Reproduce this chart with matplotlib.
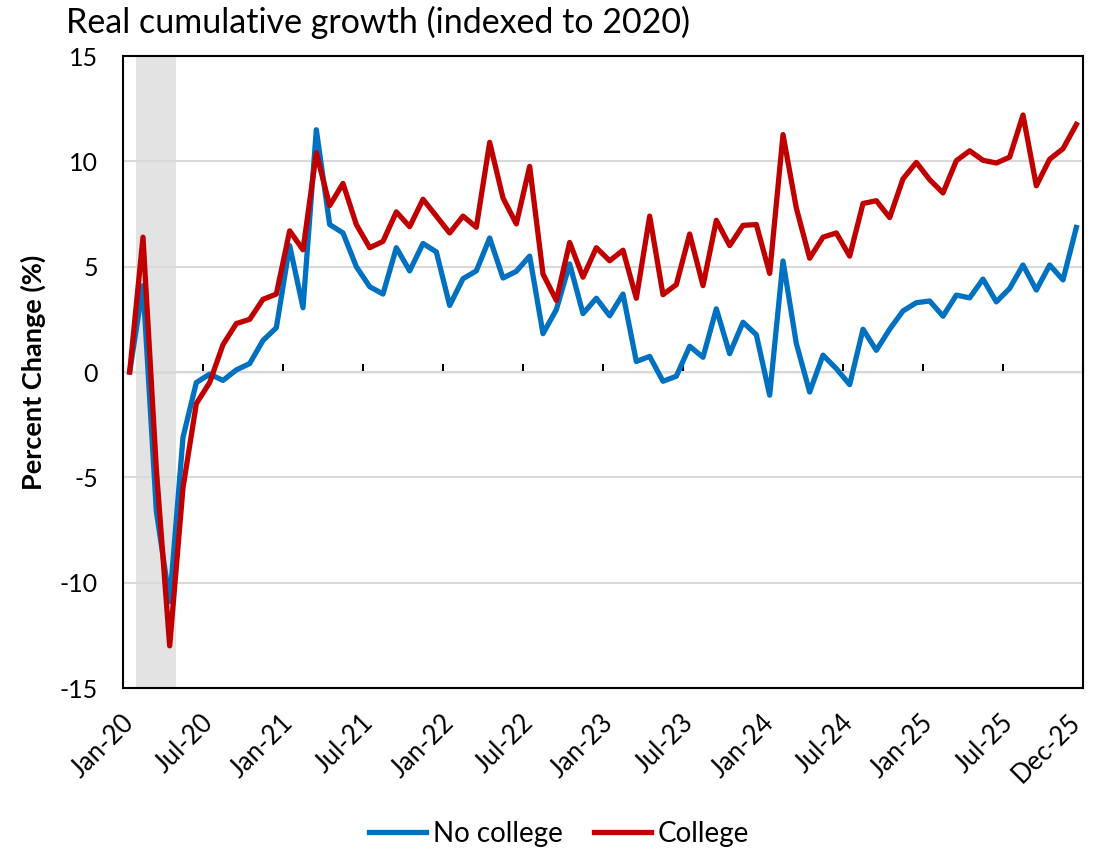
import numpy as np
import matplotlib
matplotlib.use("Agg")
import matplotlib.pyplot as plt

# ---------------- data ----------------
months = [f"{m}-{y}" for y in range(20, 26) for m in
          ["Jan", "Feb", "Mar", "Apr", "May", "Jun", "Jul", "Aug", "Sep", "Oct", "Nov", "Dec"]]

no_college = [
    0.0, 4.1, -6.6, -10.9, -3.1, -0.5, -0.1, -0.4, 0.1, 0.4, 1.5, 2.1,          # 2020
    6.0, 3.05, 11.5, 7.0, 6.6, 5.0, 4.05, 3.7, 5.9, 4.8, 6.1, 5.7,            # 2021
    3.16, 4.43, 4.8, 6.36, 4.46, 4.78, 5.5, 1.82, 2.96, 5.13, 2.77, 3.5,      # 2022
    2.67, 3.7, 0.5, 0.74, -0.44, -0.2, 1.22, 0.7, 3.0, 0.87, 2.36, 1.77,      # 2023
    -1.1, 5.27, 1.35, -0.95, 0.8, 0.16, -0.6, 2.03, 1.03, 2.03, 2.9, 3.29,    # 2024
    3.37, 2.65, 3.65, 3.52, 4.41, 3.33, 3.97, 5.08, 3.89, 5.08, 4.37, 6.86,   # 2025
]
college = [
    0.0, 6.4, -4.6, -13.0, -5.5, -1.5, -0.5, 1.3, 2.3, 2.5, 3.45, 3.7,        # 2020
    6.7, 5.8, 10.4, 7.9, 8.95, 7.0, 5.9, 6.2, 7.6, 6.9, 8.2, 7.4,             # 2021
    6.6, 7.4, 6.87, 10.9, 8.26, 7.03, 9.76, 4.65, 3.4, 6.15, 4.5, 5.9,        # 2022
    5.28, 5.78, 3.5, 7.4, 3.67, 4.15, 6.55, 4.1, 7.2, 6.0, 6.96, 7.0,         # 2023
    4.68, 11.27, 7.78, 5.4, 6.4, 6.6, 5.5, 8.0, 8.13, 7.33, 9.17, 9.95,       # 2024
    9.13, 8.5, 10.03, 10.5, 10.05, 9.92, 10.2, 12.2, 8.84, 10.1, 10.6, 11.75, # 2025
]
recession_months = ["Feb-20", "Mar-20", "Apr-20"]
tick_labels = ["Jan-20", "Jul-20", "Jan-21", "Jul-21", "Jan-22", "Jul-22", "Jan-23",
               "Jul-23", "Jan-24", "Jul-24", "Jan-25", "Jul-25", "Dec-25"]
y_ticks = [-15, -10, -5, 0, 5, 10, 15]

# ---------------- style ----------------
plt.rcParams["font.family"] = ["Lato", "DejaVu Sans"]
plt.rcParams["axes.unicode_minus"] = False
BLUE = "#0070C0"
RED = "#C00000"

fig = plt.figure(figsize=(11.07, 8.56), dpi=100)
ax = fig.add_axes([123 / 1107, 1 - 688 / 856, (1083 - 123) / 1107, (688 - 56) / 856])

x = np.arange(len(months))
ymin, ymax = y_ticks[0], y_ticks[-1]

# recession shading (between-tick-mark categories)
r_idx = [months.index(m) for m in recession_months]
ax.axvspan(min(r_idx) - 0.5, max(r_idx) + 0.5, color="#E3E3E3", lw=0, zorder=0)

ax.set_yticks(y_ticks)
ax.yaxis.grid(True, color="#D9D9D9", lw=1.5, zorder=0)
ax.set_axisbelow(True)

ax.plot(x, no_college, color=BLUE, lw=3.8, label="No college", zorder=3,
        solid_joinstyle="round")
ax.plot(x, college, color=RED, lw=3.8, label="College", zorder=4,
        solid_joinstyle="round")

ax.set_xlim(-0.5, len(months) - 0.5)
ax.set_ylim(ymin, ymax)

# category labels sit on the category centres
label_pos = [months.index(l) for l in tick_labels]
ax.set_xticks(label_pos)
ax.set_xticklabels(tick_labels, rotation=45, ha="right", va="center",
                   rotation_mode="anchor", fontsize=18.5)
ax.tick_params(axis="x", length=0, pad=22)
ax.tick_params(axis="y", length=0, pad=18, labelsize=18)

for s in ax.spines.values():
    s.set_color("black")
    s.set_linewidth(1.5)

# horizontal axis line at zero with tick marks between categories
tick_pos = np.arange(0, len(months) + 1, 6) - 0.5
zero_loc = (0 - ymin) / (ymax - ymin)
sec = ax.secondary_xaxis(zero_loc)
sec.set_xticks(tick_pos)
sec.set_xticklabels([])
sec.tick_params(axis="x", direction="out", length=6, width=1.5, color="black")
sec.spines["bottom"].set_color("black")
sec.spines["bottom"].set_linewidth(2)

fig.text(66 / 1107, 1 - 33 / 856, "Real cumulative growth (indexed to 2020)",
         fontsize=24.5, ha="left", va="baseline")
fig.text(33 / 1107, 1 - 372 / 856, "Percent Change (%)", rotation=90,
         fontsize=19.5, fontweight="bold", ha="center", va="center")

fig.legend(loc="center", bbox_to_anchor=(0.505, 1 - 834 / 856), ncol=2,
           frameon=False, fontsize=20, handlelength=2.05, columnspacing=1.1,
           handletextpad=0.25)

fig.savefig("out.png", dpi=100)
